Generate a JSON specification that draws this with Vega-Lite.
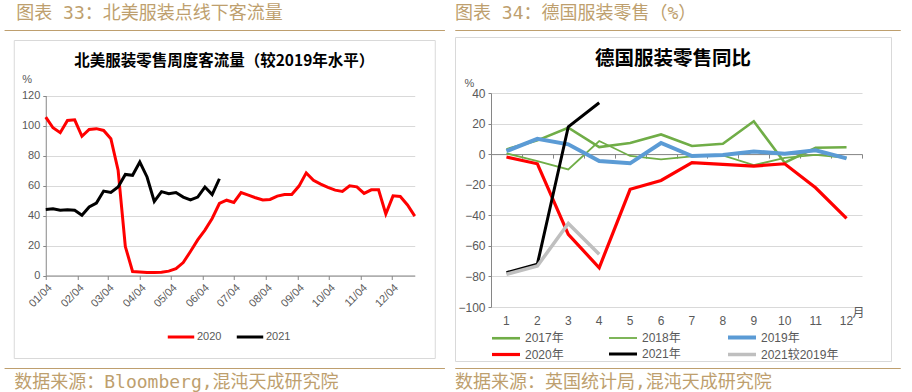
{
  "$schema": "https://vega.github.io/schema/vega-lite/v6.json",
  "background": "white",
  "padding": {"left": 3, "top": 4, "right": 0, "bottom": 0},
  "spacing": 9,
  "resolve": {"scale": {"color": "independent", "strokeWidth": "independent"}, "legend": {"color": "independent", "strokeWidth": "independent"}},
  "config": {
    "font": "Liberation Sans, Noto Sans CJK SC",
    "axis": {"labelFont": "Liberation Sans, Noto Sans CJK SC", "titleFont": "Liberation Sans, Noto Sans CJK SC"},
    "legend": {"labelFont": "Liberation Sans, Noto Sans CJK SC"},
    "title": {"font": "Noto Sans CJK SC"}
  },
  "hconcat": [
    {
      "center": true,
      "spacing": 8,
      "vconcat": [
        {
          "width": 440, "height": 0.01,
          "view": {"stroke": "#BE9F6E", "strokeWidth": 1},
          "data": {"values": []},
          "mark": "point",
          "title": {"text": "图表 33：北美服装点线下客流量", "anchor": "start", "dx": 12, "offset": 7, "fontSize": 18, "fontWeight": "normal", "color": "#BE9F6E", "font": "DejaVu Sans Mono, Noto Sans CJK SC"}
        },
        {
          "width": 421, "height": 318,
          "view": {"stroke": "#D9D9D9", "strokeWidth": 1},
          "title": {"text": "北美服装零售周度客流量（较2019年水平）", "anchor": "middle", "offset": -36, "baseline": "middle", "fontSize": 15.5, "fontWeight": "bold", "color": "#000000"},
          "data": {"values": [
            {"date": "2020-01-04", "year": "2020", "value": 105.6},
            {"date": "2020-01-11", "year": "2020", "value": 98.5},
            {"date": "2020-01-18", "year": "2020", "value": 95.2},
            {"date": "2020-01-25", "year": "2020", "value": 103.4},
            {"date": "2020-02-01", "year": "2020", "value": 103.8},
            {"date": "2020-02-08", "year": "2020", "value": 92.8},
            {"date": "2020-02-15", "year": "2020", "value": 97.4},
            {"date": "2020-02-22", "year": "2020", "value": 97.9},
            {"date": "2020-02-29", "year": "2020", "value": 96.7},
            {"date": "2020-03-07", "year": "2020", "value": 91.2},
            {"date": "2020-03-14", "year": "2020", "value": 70.2},
            {"date": "2020-03-21", "year": "2020", "value": 19.3},
            {"date": "2020-03-28", "year": "2020", "value": 2.7},
            {"date": "2020-04-04", "year": "2020", "value": 2.4},
            {"date": "2020-04-11", "year": "2020", "value": 2.0},
            {"date": "2020-04-18", "year": "2020", "value": 2.0},
            {"date": "2020-04-25", "year": "2020", "value": 2.2},
            {"date": "2020-05-02", "year": "2020", "value": 2.9},
            {"date": "2020-05-09", "year": "2020", "value": 4.6},
            {"date": "2020-05-16", "year": "2020", "value": 8.6},
            {"date": "2020-05-23", "year": "2020", "value": 16},
            {"date": "2020-05-30", "year": "2020", "value": 23.7},
            {"date": "2020-06-06", "year": "2020", "value": 30.3},
            {"date": "2020-06-13", "year": "2020", "value": 38},
            {"date": "2020-06-20", "year": "2020", "value": 48},
            {"date": "2020-06-27", "year": "2020", "value": 50.2},
            {"date": "2020-07-04", "year": "2020", "value": 48.7},
            {"date": "2020-07-11", "year": "2020", "value": 55.3},
            {"date": "2020-07-18", "year": "2020", "value": 53.6},
            {"date": "2020-07-25", "year": "2020", "value": 51.8},
            {"date": "2020-08-01", "year": "2020", "value": 50.3},
            {"date": "2020-08-08", "year": "2020", "value": 50.7},
            {"date": "2020-08-15", "year": "2020", "value": 52.9},
            {"date": "2020-08-22", "year": "2020", "value": 54},
            {"date": "2020-08-29", "year": "2020", "value": 54},
            {"date": "2020-09-05", "year": "2020", "value": 59.6},
            {"date": "2020-09-12", "year": "2020", "value": 68.4},
            {"date": "2020-09-19", "year": "2020", "value": 63.5},
            {"date": "2020-09-26", "year": "2020", "value": 60.9},
            {"date": "2020-10-03", "year": "2020", "value": 58.7},
            {"date": "2020-10-10", "year": "2020", "value": 56.9},
            {"date": "2020-10-17", "year": "2020", "value": 56},
            {"date": "2020-10-24", "year": "2020", "value": 59.8},
            {"date": "2020-10-31", "year": "2020", "value": 59.1},
            {"date": "2020-11-07", "year": "2020", "value": 54.7},
            {"date": "2020-11-14", "year": "2020", "value": 57.1},
            {"date": "2020-11-21", "year": "2020", "value": 57.1},
            {"date": "2020-11-28", "year": "2020", "value": 41},
            {"date": "2020-12-05", "year": "2020", "value": 53.1},
            {"date": "2020-12-12", "year": "2020", "value": 52.7},
            {"date": "2020-12-19", "year": "2020", "value": 47},
            {"date": "2020-12-26", "year": "2020", "value": 39.6},
            {"date": "2020-01-04", "year": "2021", "value": 44},
            {"date": "2020-01-11", "year": "2021", "value": 44.5},
            {"date": "2020-01-18", "year": "2021", "value": 43.5},
            {"date": "2020-01-25", "year": "2021", "value": 43.8},
            {"date": "2020-02-01", "year": "2021", "value": 43.5},
            {"date": "2020-02-08", "year": "2021", "value": 40.2},
            {"date": "2020-02-15", "year": "2021", "value": 45.7},
            {"date": "2020-02-22", "year": "2021", "value": 48.3},
            {"date": "2020-02-29", "year": "2021", "value": 56.3},
            {"date": "2020-03-07", "year": "2021", "value": 55.4},
            {"date": "2020-03-14", "year": "2021", "value": 59},
            {"date": "2020-03-21", "year": "2021", "value": 67.4},
            {"date": "2020-03-28", "year": "2021", "value": 66.8},
            {"date": "2020-04-04", "year": "2021", "value": 75.6},
            {"date": "2020-04-11", "year": "2021", "value": 65.7},
            {"date": "2020-04-18", "year": "2021", "value": 49.4},
            {"date": "2020-04-25", "year": "2021", "value": 55.9},
            {"date": "2020-05-02", "year": "2021", "value": 54.5},
            {"date": "2020-05-09", "year": "2021", "value": 55.3},
            {"date": "2020-05-16", "year": "2021", "value": 52.3},
            {"date": "2020-05-23", "year": "2021", "value": 50.4},
            {"date": "2020-05-30", "year": "2021", "value": 52.3},
            {"date": "2020-06-06", "year": "2021", "value": 59},
            {"date": "2020-06-13", "year": "2021", "value": 53.9},
            {"date": "2020-06-20", "year": "2021", "value": 64.5}
          ]},
          "mark": {"type": "line", "strokeWidth": 3},
          "encoding": {
            "x": {
              "field": "date", "type": "temporal",
              "scale": {"type": "utc", "domain": [{"year": 2020, "month": 1, "date": 4, "utc": true}, {"year": 2020, "month": 12, "date": 26, "utc": true}], "range": [32, 401]},
              "axis": {
                "orient": "bottom", "offset": -82.5, "title": null, "grid": false,
                "values": [
                  {"year": 2020, "month": 1, "date": 4, "utc": true},
                  {"year": 2020, "month": 2, "date": 4, "utc": true},
                  {"year": 2020, "month": 3, "date": 4, "utc": true},
                  {"year": 2020, "month": 4, "date": 4, "utc": true},
                  {"year": 2020, "month": 5, "date": 4, "utc": true},
                  {"year": 2020, "month": 6, "date": 4, "utc": true},
                  {"year": 2020, "month": 7, "date": 4, "utc": true},
                  {"year": 2020, "month": 8, "date": 4, "utc": true},
                  {"year": 2020, "month": 9, "date": 4, "utc": true},
                  {"year": 2020, "month": 10, "date": 4, "utc": true},
                  {"year": 2020, "month": 11, "date": 4, "utc": true},
                  {"year": 2020, "month": 12, "date": 4, "utc": true}
                ],
                "format": "%m/%d", "labelAngle": -45, "labelOverlap": false, "labelFlush": false,
                "labelFontSize": 11, "labelColor": "#595959",
                "domainColor": "#868686", "tickColor": "#868686", "tickSize": 4
              }
            },
            "y": {
              "field": "value", "type": "quantitative",
              "scale": {"domain": [0, 120], "range": [235.5, 55.5]},
              "axis": {
                "values": [0, 20, 40, 60, 80, 100, 120], "offset": -32,
                "grid": true, "gridColor": "#D9D9D9",
                "domainColor": "#868686", "tickColor": "#868686", "tickSize": 3,
                "labelFontSize": 11, "labelColor": "#595959", "labelPadding": 3,
                "title": "%", "titleAngle": 0, "titleX": -19, "titleY": 39,
                "titleAlign": "center", "titleBaseline": "middle",
                "titleColor": "#595959", "titleFontSize": 11, "titleFontWeight": "normal"
              }
            },
            "color": {
              "field": "year", "type": "nominal",
              "scale": {"domain": ["2020", "2021"], "range": ["#FF0000", "#000000"]},
              "legend": {
                "orient": "none", "legendX": 162, "legendY": 292, "direction": "horizontal",
                "title": null, "symbolType": "stroke", "symbolSize": 700, "symbolStrokeWidth": 3,
                "labelFontSize": 11, "labelColor": "#595959", "labelOffset": 1,
                "columnPadding": 8, "padding": 0
              }
            }
          }
        },
        {
          "width": 440, "height": 0.01,
          "view": {"stroke": "#BE9F6E", "strokeWidth": 1},
          "data": {"values": []},
          "mark": "point",
          "title": {"text": "数据来源：Bloomberg,混沌天成研究院", "orient": "bottom", "anchor": "start", "dx": 10, "offset": 6, "fontSize": 18, "fontWeight": "normal", "color": "#BE9F6E", "font": "DejaVu Sans Mono, Noto Sans CJK SC"}
        }
      ]
    },
    {
      "spacing": 5,
      "vconcat": [
        {
          "width": 445, "height": 0.01,
          "view": {"stroke": "#BE9F6E", "strokeWidth": 1},
          "data": {"values": []},
          "mark": "point",
          "title": {"text": "图表 34：德国服装零售（%）", "anchor": "start", "offset": 7, "fontSize": 18, "fontWeight": "normal", "color": "#BE9F6E", "font": "DejaVu Sans Mono, Noto Sans CJK SC"}
        },
        {
          "width": 436, "height": 324,
          "view": {"stroke": "#D9D9D9", "strokeWidth": 1},
          "title": {"text": "德国服装零售同比", "anchor": "middle", "offset": -41, "baseline": "middle", "fontSize": 19.5, "fontWeight": "bold", "color": "#000000"},
          "data": {"values": [
            {"month": 1, "series": "2017年", "value": 3.1},
            {"month": 2, "series": "2017年", "value": 9},
            {"month": 3, "series": "2017年", "value": 17.3},
            {"month": 4, "series": "2017年", "value": 4.6},
            {"month": 5, "series": "2017年", "value": 7.3},
            {"month": 6, "series": "2017年", "value": 12.9},
            {"month": 7, "series": "2017年", "value": 5.3},
            {"month": 8, "series": "2017年", "value": 6.8},
            {"month": 9, "series": "2017年", "value": 21.5},
            {"month": 10, "series": "2017年", "value": -5.6},
            {"month": 11, "series": "2017年", "value": 4.2},
            {"month": 12, "series": "2017年", "value": 4.5},
            {"month": 1, "series": "2018年", "value": 0.5},
            {"month": 2, "series": "2018年", "value": -4.5},
            {"month": 3, "series": "2018年", "value": -10},
            {"month": 4, "series": "2018年", "value": 8.6},
            {"month": 5, "series": "2018年", "value": -1.2},
            {"month": 6, "series": "2018年", "value": -3.4},
            {"month": 7, "series": "2018年", "value": -1.5},
            {"month": 8, "series": "2018年", "value": -0.8},
            {"month": 9, "series": "2018年", "value": -7.2},
            {"month": 10, "series": "2018年", "value": -2.5},
            {"month": 11, "series": "2018年", "value": -0.5},
            {"month": 12, "series": "2018年", "value": -2.5},
            {"month": 1, "series": "2019年", "value": 2},
            {"month": 2, "series": "2019年", "value": 10},
            {"month": 3, "series": "2019年", "value": 6.4},
            {"month": 4, "series": "2019年", "value": -4.5},
            {"month": 5, "series": "2019年", "value": -6},
            {"month": 6, "series": "2019年", "value": 7.3},
            {"month": 7, "series": "2019年", "value": -1.2},
            {"month": 8, "series": "2019年", "value": -0.5},
            {"month": 9, "series": "2019年", "value": 1.8},
            {"month": 10, "series": "2019年", "value": 0.3},
            {"month": 11, "series": "2019年", "value": 2.5},
            {"month": 12, "series": "2019年", "value": -2.8},
            {"month": 1, "series": "2020年", "value": -1.9},
            {"month": 2, "series": "2020年", "value": -6.3},
            {"month": 3, "series": "2020年", "value": -52.5},
            {"month": 4, "series": "2020年", "value": -74.3},
            {"month": 5, "series": "2020年", "value": -23},
            {"month": 6, "series": "2020年", "value": -17.2},
            {"month": 7, "series": "2020年", "value": -5.6},
            {"month": 8, "series": "2020年", "value": -6.7},
            {"month": 9, "series": "2020年", "value": -7.8},
            {"month": 10, "series": "2020年", "value": -6.3},
            {"month": 11, "series": "2020年", "value": -22},
            {"month": 12, "series": "2020年", "value": -42},
            {"month": 1, "series": "2021年", "value": -77.5},
            {"month": 2, "series": "2021年", "value": -72},
            {"month": 3, "series": "2021年", "value": 17.9},
            {"month": 4, "series": "2021年", "value": 33.6},
            {"month": 1, "series": "2021较2019年", "value": -78.6},
            {"month": 2, "series": "2021较2019年", "value": -73.2},
            {"month": 3, "series": "2021较2019年", "value": -45.3},
            {"month": 4, "series": "2021较2019年", "value": -65.5}
          ]},
          "resolve": {"axis": {"x": "independent"}},
          "layer": [
            {
              "mark": {"type": "tick", "opacity": 0},
              "encoding": {
                "x": {
                  "field": "month", "type": "ordinal",
                  "axis": {
                    "orient": "bottom", "offset": -206.9, "labels": false, "title": null, "grid": false,
                    "domain": true, "ticks": true, "tickBand": "extent", "tickSize": 4,
                    "domainColor": "#868686", "tickColor": "#868686", "zindex": 0
                  }
                }
              }
            },
            {
              "mark": {"type": "line"},
              "encoding": {
                "x": {
                  "field": "month", "type": "ordinal", "bandPosition": 0.5,
                  "scale": {"type": "band", "domain": [1, 2, 3, 4, 5, 6, 7, 8, 9, 10, 11, 12], "range": [36, 407], "paddingInner": 0, "paddingOuter": 0},
                  "axis": {
                    "orient": "bottom", "offset": -54, "domain": false, "ticks": false, "grid": false,
                    "labelAngle": 0, "labelPadding": 8, "labelFontSize": 12, "labelColor": "#595959",
                    "title": "月", "titleX": 397, "titleY": 5, "titleAlign": "left", "titleBaseline": "middle",
                    "titleColor": "#595959", "titleFontSize": 12, "titleFontWeight": "normal"
                  }
                },
                "y": {
                  "field": "value", "type": "quantitative",
                  "scale": {"domain": [-100, 40], "range": [270, 56]},
                  "axis": {
                    "values": [-100, -80, -60, -40, -20, 0, 20, 40], "offset": -36,
                    "grid": true, "gridColor": "#D9D9D9",
                    "domainColor": "#868686", "tickColor": "#868686", "tickSize": 3,
                    "labelFontSize": 12, "labelColor": "#595959", "labelPadding": 3,
                    "title": "%", "titleAngle": 0, "titleX": -22, "titleY": 46,
                    "titleAlign": "center", "titleBaseline": "middle",
                    "titleColor": "#595959", "titleFontSize": 11, "titleFontWeight": "normal"
                  }
                },
                "color": {
                  "field": "series", "type": "nominal",
                  "scale": {"domain": ["2017年", "2018年", "2019年", "2020年", "2021年", "2021较2019年"], "range": ["#70AD47", "#70AD47", "#5B9BD5", "#FF0000", "#000000", "#BFBFBF"]},
                  "legend": {
                    "orient": "none", "legendX": 42, "legendY": 298.5, "columns": 3, "direction": "horizontal",
                    "title": null, "symbolType": "M-2,0H2", "symbolSize": 196,
                    "labelFontSize": 12, "labelColor": "#595959", "labelOffset": 10,
                    "columnPadding": 39, "rowPadding": 0, "padding": 0
                  }
                },
                "strokeWidth": {
                  "field": "series", "type": "nominal",
                  "scale": {"type": "ordinal", "domain": ["2017年", "2018年", "2019年", "2020年", "2021年", "2021较2019年"], "range": [2.6, 1.8, 4, 3.2, 3, 3.5]}
                }
              }
            }
          ]
        },
        {
          "width": 445, "height": 0.01,
          "view": {"stroke": "#BE9F6E", "strokeWidth": 1},
          "data": {"values": []},
          "mark": "point",
          "title": {"text": "数据来源：英国统计局,混沌天成研究院", "orient": "bottom", "anchor": "start", "offset": 6, "fontSize": 18, "fontWeight": "normal", "color": "#BE9F6E", "font": "DejaVu Sans Mono, Noto Sans CJK SC"}
        }
      ]
    }
  ]
}
